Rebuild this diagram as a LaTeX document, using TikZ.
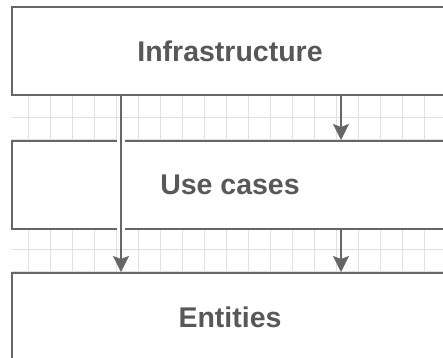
\documentclass[tikz,border=0pt]{standalone}
\usepackage{fontspec}
\setsansfont{Liberation Sans}
\usetikzlibrary{arrows.meta,positioning}
\definecolor{edgegray}{RGB}{102,102,102}
\definecolor{textgray}{RGB}{88,88,88}
\definecolor{gridgray}{RGB}{224,224,224}

\begin{document}
\begin{tikzpicture}[x=1pt, y=1pt, node distance=44pt,
  every node/.style={font=\sffamily\bfseries\fontsize{28.5}{32}\selectfont, text=textgray},
  layer/.style={draw=edgegray, line width=2pt, fill=white, minimum width=436pt, minimum height=88pt, inner sep=0pt},
  arr/.style={-{Stealth[length=16pt, width=16pt, inset=3pt]}, draw=edgegray, line width=2pt},
  halo/.style={draw=white, line width=8pt}]
\useasboundingbox (0,0) rectangle (443,-357);
% background grid between the layers
\draw[gridgray, line width=1pt, shift={(6,-7)}] (6,0) grid[step=22pt] (437,-350);
\node[layer] (infra) at (230,-51) {Infrastructure};
\node[layer, below=44pt of infra] (usecases) {Use cases};
\node[layer, below=42pt of usecases] (entities) {Entities};
\coordinate (lx) at (121,0); \coordinate (rx) at (341,0);
\draw[halo] ([yshift=2pt]usecases.north -| lx) -- ([yshift=-2pt]usecases.south -| lx);
\draw[arr] (infra.south -| lx) -- (entities.north -| lx);
\draw[arr] (infra.south -| rx) -- (usecases.north -| rx); \draw[arr] (usecases.south -| rx) -- (entities.north -| rx);
\end{tikzpicture}
\end{document}
